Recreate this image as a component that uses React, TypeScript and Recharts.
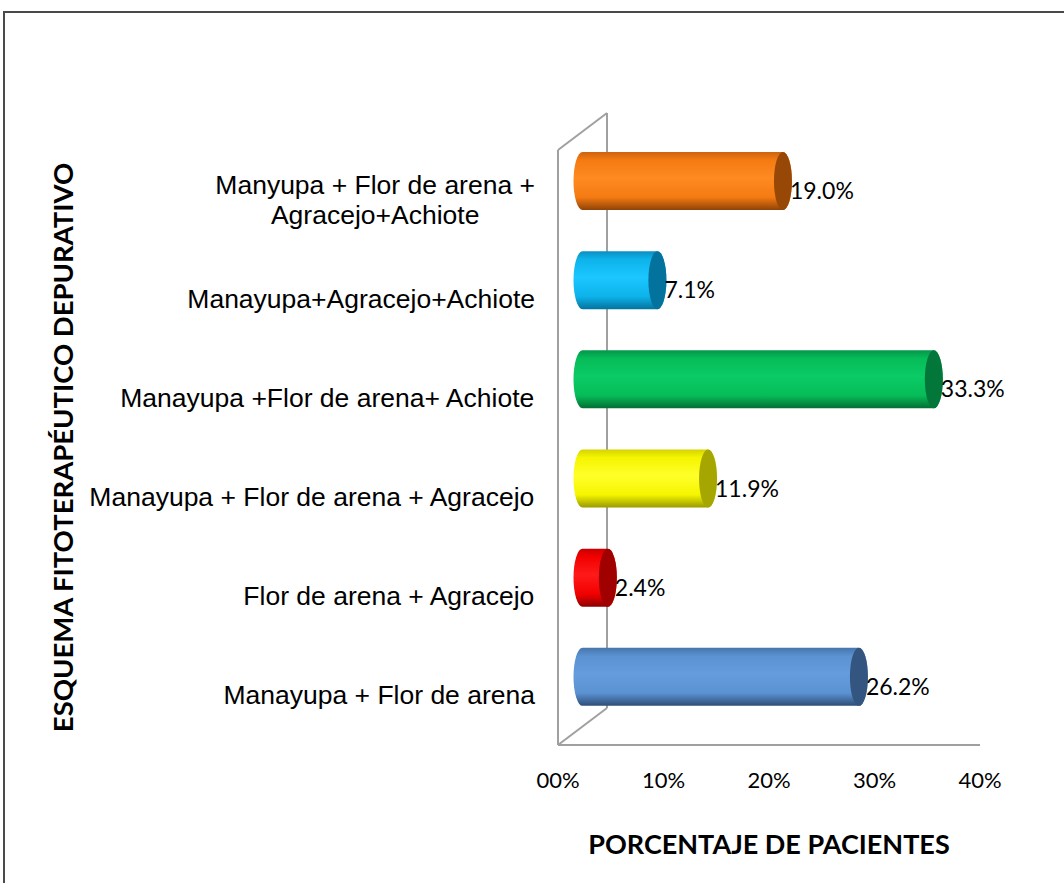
import React from "react";
import { BarChart, Bar, XAxis, YAxis, LabelList, usePlotArea } from "recharts";

// categories top to bottom, "\n" marks the line break of the first label
const categories = [
  "Manyupa + Flor de arena +\nAgracejo+Achiote",
  "Manayupa+Agracejo+Achiote",
  "Manayupa +Flor de arena+ Achiote",
  "Manayupa + Flor de arena + Agracejo",
  "Flor de arena + Agracejo",
  "Manayupa + Flor de arena",
];
const percentages = [19.0, 7.1, 33.3, 11.9, 2.4, 26.2];
const xTicks = [0, 10, 20, 30, 40];
const xTickLabels = ["00%", "10%", "20%", "30%", "40%"];
const yTitle = "ESQUEMA FITOTERAPÉUTICO DEPURATIVO";
const xTitle = "PORCENTAJE DE PACIENTES";

const palette = [
  { top: "#CC640E", mid: "#F57A12", light: "#FF8A22", bottom: "#8E4306", cap: "#984806" },
  { top: "#0A8FC0", mid: "#0DB3EB", light: "#1CC6FF", bottom: "#04739E", cap: "#03729C" },
  { top: "#04964A", mid: "#06BC58", light: "#0ACB66", bottom: "#036E33", cap: "#03763A" },
  { top: "#D4D400", mid: "#F5F500", light: "#FFFF2A", bottom: "#9A9A00", cap: "#A6A600" },
  { top: "#C80000", mid: "#F20000", light: "#FF1A1A", bottom: "#8E0000", cap: "#A00000" },
  { top: "#4775AA", mid: "#5A92D2", light: "#659CDD", bottom: "#2F4D76", cap: "#34557F" },
];

const data = categories.map((name, i) => ({ name, value: percentages[i] }));

// 3d depth of the walls, bars sit half way in
const DEPTH_X = 49;
const DEPTH_Y = -37;
const DX = 24.5;
const DY = -19;
const RX = 9;
const FRAME = "#A0A0A0";
const CAT_FONT = "Liberation Sans, Arial, sans-serif";
const CAT_SIZE = 26.5;
const NUM_FONT = "Lato, Carlito, sans-serif";

let ctx: CanvasRenderingContext2D | null = null;
function textWidth(s: string, font: string) {
  if (typeof document === "undefined") return s.length * 13;
  if (!ctx) ctx = document.createElement("canvas").getContext("2d");
  if (!ctx) return s.length * 13;
  ctx.font = font;
  return ctx.measureText(s).width;
}

const CategoryTick = (props: any) => {
  const { x, y, payload } = props;
  const lines = String(payload.value).split("\n");
  const w = Math.max(...lines.map((l) => textWidth(l, `${CAT_SIZE}px "Liberation Sans"`)));
  const cx = x - 23 - w / 2;
  const lh = 30;
  const start = y - ((lines.length - 1) * lh) / 2;
  return (
    <g>
      {lines.map((l, i) => (
        <text
          key={i}
          x={cx}
          y={start + i * lh}
          textAnchor="middle"
          dominantBaseline="central"
          fontFamily={CAT_FONT}
          fontSize={CAT_SIZE}
          fill="#000"
        >
          {l}
        </text>
      ))}
    </g>
  );
};

const PercentTick = (props: any) => {
  const { x, y, index } = props;
  return (
    <text x={x} y={y + 43} textAnchor="middle" fontFamily={NUM_FONT} fontSize={22} fill="#000">
      {xTickLabels[index]}
    </text>
  );
};

const Cylinder = (props: any) => {
  const { x, y, width, height, index } = props;
  const c = palette[index % palette.length];
  const x0 = x + DX;
  const x1 = x + DX + Math.max(width, 0);
  const top = y + DY;
  const bot = y + DY + height;
  const ry = height / 2;
  const body = `M${x0},${top} L${x1},${top} A${RX},${ry} 0 0 1 ${x1},${bot} L${x0},${bot} A${RX},${ry} 0 0 1 ${x0},${top} Z`;
  return (
    <g>
      <path d={body} fill={`url(#cyl-${index})`} />
      <ellipse cx={x1} cy={top + ry} rx={RX} ry={ry} fill={c.cap} />
    </g>
  );
};

const ValueLabel = (props: any) => {
  const { x, y, width, height, value } = props;
  const cy = y + DY + height / 2;
  return (
    <text x={x + DX + width + 7} y={cy + 18} fontFamily={NUM_FONT} fontSize={23} fill="#000">
      {Number(value).toFixed(1)}%
    </text>
  );
};

const Frame = () => {
  const p = usePlotArea();
  if (!p) return null;
  const { x, y, width, height } = p;
  const bx = x + DEPTH_X;
  return (
    <g>
      <line x1={x} y1={y} x2={bx} y2={y + DEPTH_Y} stroke={FRAME} strokeWidth={2} />
      <line x1={bx} y1={y + DEPTH_Y} x2={bx} y2={y + height + DEPTH_Y} stroke={FRAME} strokeWidth={2} />
      <line x1={x} y1={y + height} x2={bx} y2={y + height + DEPTH_Y} stroke={FRAME} strokeWidth={2} />
      <text
        x={x + width / 2}
        y={y + height + 109}
        textAnchor="middle"
        fontFamily={NUM_FONT}
        fontWeight="bold"
        fontSize={27}
        fill="#000"
      >
        {xTitle}
      </text>
      <text
        transform={`translate(73, ${y + height / 2}) rotate(-90)`}
        textAnchor="middle"
        fontFamily={NUM_FONT}
        fontWeight="bold"
        fontSize={27.5}
        fill="#000"
      >
        {yTitle}
      </text>
    </g>
  );
};

export default function App() {
  return (
    <div
      style={{
        position: "absolute",
        left: 0,
        top: 0,
        width: 1064,
        height: 883,
        overflow: "hidden",
        background: "#fff",
      }}
    >
      <div
        style={{
          position: "absolute",
          left: 3,
          top: 11,
          width: 1100,
          height: 900,
          border: "2px solid #4A4A4A",
        }}
      />
      <div style={{ position: "absolute", left: 0, top: 0 }}>
        <BarChart
          width={1064}
          height={883}
          data={data}
          layout="vertical"
          margin={{ top: 150, right: 84, bottom: 78, left: 0 }}
        >
          <defs>
            {palette.map((c, i) => (
              <linearGradient key={i} id={`cyl-${i}`} x1="0" y1="0" x2="0" y2="1">
                <stop offset="0%" stopColor={c.top} />
                <stop offset="14%" stopColor={c.mid} />
                <stop offset="45%" stopColor={c.light} />
                <stop offset="78%" stopColor={c.mid} />
                <stop offset="100%" stopColor={c.bottom} />
              </linearGradient>
            ))}
          </defs>
          <Frame />
          <XAxis
            type="number"
            domain={[0, 40]}
            ticks={xTicks}
            height={60}
            axisLine={{ stroke: FRAME, strokeWidth: 2 }}
            tickLine={false}
            tickSize={0}
            tickMargin={0}
            tick={<PercentTick />}
            interval={0}
          />
          <YAxis
            type="category"
            dataKey="name"
            width={558}
            axisLine={{ stroke: FRAME, strokeWidth: 2 }}
            tickLine={false}
            tickSize={0}
            tickMargin={0}
            tick={<CategoryTick />}
            interval={0}
          />
          <Bar dataKey="value" barSize={58} shape={<Cylinder />} isAnimationActive={false}>
            <LabelList dataKey="value" content={<ValueLabel />} />
          </Bar>
        </BarChart>
      </div>
    </div>
  );
}
